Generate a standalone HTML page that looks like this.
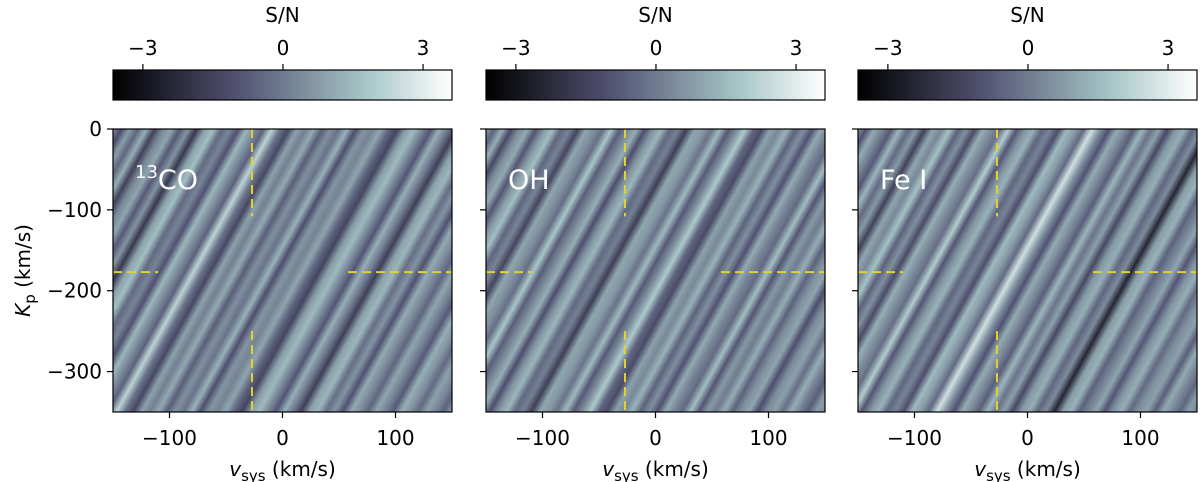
<!DOCTYPE html>
<html><head><meta charset="utf-8">
<style>
body{margin:0;background:#fff;}
svg{display:block;font-family:"DejaVu Sans","Liberation Sans",sans-serif;}
</style></head>
<body>
<svg id="fig" width="1200" height="482"></svg>
<script>
// Data
const panelLabels = ["CO", "OH", "Fe I"];
const panelStripes = [
 [0.5,-1.2,0.8,-0.5,1.2,-1.5,0.3,1.0,-0.8,0.6,-1.8,0.9,1.6,-0.4,0.2,-1.0,1.4,0.4,-0.6,2.2,-0.2,-1.3,0.9,0.1,1.1,-0.7,0.5,-0.2,1.3,-1.1,0.6,0.2,1.0,-0.5,-1.4,0.8,1.5,0.3,-0.9,1.2,0.0,-1.6,0.9,1.4,-0.3,0.6,-1.0,1.1,0.4,-0.5,1.0,0.2,-0.8,1.2,0.6,-0.4,0.9,0.3,-0.6,0.8],
 [0.8,-0.6,1.2,-1.3,0.4,1.1,-0.9,0.7,1.6,-0.5,0.2,-1.4,1.0,0.5,-0.3,1.8,-0.7,0.3,1.2,-1.1,0.6,1.4,-0.4,0.1,-1.6,1.0,0.7,-0.2,1.5,-0.8,0.4,1.9,-0.5,-1.2,0.9,0.3,1.3,-0.6,0.5,-1.0,1.1,0.2,-0.4,1.6,-0.9,0.7,0.0,1.2,-0.6,0.5,1.0,-1.1,0.4,0.9,-0.3,1.2,0.1,-0.7,0.8,0.4],
 [0.6,-1.0,1.1,0.2,-0.8,1.4,-0.4,0.7,-1.5,1.0,0.3,1.7,-0.6,0.5,-1.2,1.2,0.4,-0.3,2.0,-0.9,0.6,1.3,-0.5,0.2,-1.1,1.5,0.8,-0.4,2.6,0.5,-1.0,1.1,0.3,-0.7,1.4,-0.2,0.9,-1.3,0.7,1.2,-0.5,0.4,-2.4,0.8,1.3,-0.6,0.2,1.0,-0.9,0.6,1.2,-0.4,0.5,0.9,-0.7,1.1,0.3,-0.5,0.8,0.2]
];
const xTicks = [-100, 0, 100];
const yTicks = [0, -100, -200, -300];
const cbTicks = [-3, 0, 3];
const vsysMarker = -27;
const kpMarker = -177;

const NS = "http://www.w3.org/2000/svg";
const svg = document.getElementById("fig");
function mk(tag, attrs, parent){const e=document.createElementNS(NS,tag);for(const k in attrs)e.setAttribute(k,attrs[k]);(parent||svg).appendChild(e);return e;}
function interp(pts, t){ if(t<=pts[0][0])return pts[0][1]; for(let i=1;i<pts.length;i++){ if(t<=pts[i][0]){const a=pts[i-1],b=pts[i];return a[1]+(b[1]-a[1])*(t-a[0])/(b[0]-a[0]);}} return pts[pts.length-1][1];}
function bone(t){ t=Math.max(0,Math.min(1,t));
 const r=interp([[0,0],[0.746,0.652],[1,1]],t), g=interp([[0,0],[0.365,0.319],[0.746,0.777],[1,1]],t), b=interp([[0,0],[0.365,0.444],[1,1]],t);
 return `rgb(${Math.round(r*255)},${Math.round(g*255)},${Math.round(b*255)})`;}
const vmin=-3.64, vmax=3.62;
function cmap(v){return bone((v-vmin)/(vmax-vmin));}

const defs = mk("defs",{});
const panelLeft=[113,486,858], PW=339, PT=129, PH=283;
const xs=(v,p)=>panelLeft[p]+(v+150)/300*PW;
const ys=k=>PT+(-k)/350*PH;
const FS=20;

panelLeft.forEach((L,p)=>{
 const g=mk("g",{});
 
 
 const gid="hm"+p;
 const dx=0.876, dy=0.482, len=433;
 const lg=mk("linearGradient",{id:gid,gradientUnits:"userSpaceOnUse",x1:L,y1:PT,x2:L+dx*len,y2:PT+dy*len},defs);
 const vals=panelStripes[p];
 vals.forEach((v,i)=>{mk("stop",{offset:(i/(vals.length-1)).toFixed(4),"stop-color":cmap(v)},lg);});
 const hm=mk("rect",{x:L,y:PT,width:PW,height:PH,fill:`url(#${gid})`},g);
 
 
 const xm=xs(vsysMarker,p), yk=ys(kpMarker);
 const dash={stroke:"#e0d230","stroke-width":2,"stroke-dasharray":"9,5",fill:"none"};
 const m1=mk("line",Object.assign({x1:xm,y1:PT,x2:xm,y2:ys(-108)},dash),g);
 
 const m2=mk("line",Object.assign({x1:xm,y1:ys(-250),x2:xm,y2:PT+PH},dash),g);
 
 const m3=mk("line",Object.assign({x1:L,y1:yk,x2:xs(-110,p),y2:yk},dash),g);
 
 const m4=mk("line",Object.assign({x1:xs(58,p),y1:yk,x2:L+PW,y2:yk},dash),g);
 
 mk("rect",{x:L,y:PT,width:PW,height:PH,fill:"none",stroke:"#000","stroke-width":1.2},g);
 const lab=mk("text",{x:L+22,y:PT+60,fill:"#fff","font-size":27},g);
 
 
 if(p===0){const s=mk("tspan",{"font-size":18,dy:-11},lab);s.textContent="13";const t=mk("tspan",{dy:11},lab);t.textContent="CO";}
 else lab.textContent=panelLabels[p];
 xTicks.forEach(v=>{const x=xs(v,p);mk("line",{x1:x,y1:PT+PH,x2:x,y2:PT+PH+6,stroke:"#000","stroke-width":1.2},g);
  const t=mk("text",{x:x,y:PT+PH+33,"text-anchor":"middle","font-size":FS},g);
  
  t.textContent=(v<0?"\u2212"+(-v):v);});
 const xt=mk("text",{x:L+PW/2,y:PT+PH+64,"text-anchor":"middle","font-size":FS},g);
 
 xt.innerHTML='<tspan font-style="italic">v</tspan><tspan font-size="15" dy="5">sys</tspan><tspan dy="-5"> (km/s)</tspan>';
 yTicks.forEach(k=>{const y=ys(k);mk("line",{x1:L-6,y1:y,x2:L,y2:y,stroke:"#000","stroke-width":1.2},g);
  if(p===0){const t=mk("text",{x:L-11,y:y+7,"text-anchor":"end","font-size":FS},g);
  
  t.textContent=(k<0?"\u2212"+(-k):k);}});
 if(p===0){const yt=mk("text",{transform:`translate(30,${PT+PH/2}) rotate(-90)`,"text-anchor":"middle","font-size":FS},g);
  
  yt.innerHTML='<tspan font-style="italic">K</tspan><tspan font-size="15" dy="5">p</tspan><tspan dy="-5"> (km/s)</tspan>';}
 const cg=mk("g",{});
 
 
 const cid="cb"+p;
 const cl=mk("linearGradient",{id:cid,x1:0,y1:0,x2:1,y2:0},defs);
 for(let i=0;i<=20;i++){mk("stop",{offset:i/20,"stop-color":bone(i/20)},cl);}
 mk("rect",{x:L,y:70,width:PW,height:30,fill:`url(#${cid})`,stroke:"#000","stroke-width":1.2},cg);
 cbTicks.forEach(v=>{const x=L+(v-vmin)/(vmax-vmin)*PW;mk("line",{x1:x,y1:64,x2:x,y2:70,stroke:"#000","stroke-width":1.2},cg);
  const t=mk("text",{x:x,y:55,"text-anchor":"middle","font-size":FS},cg);
  
  t.textContent=(v<0?"\u2212"+(-v):v);});
 const ct=mk("text",{x:L+PW/2,y:22,"text-anchor":"middle","font-size":FS},cg);
 
 ct.textContent="S/N";
});
</script>
</body></html>
